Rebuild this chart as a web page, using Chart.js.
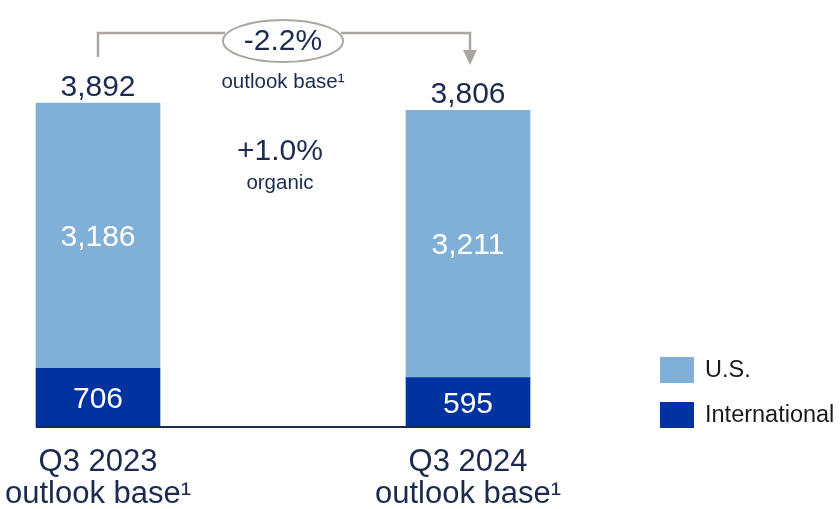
<!DOCTYPE html>
<html>
<head>
<meta charset="utf-8">
<script src="https://cdn.jsdelivr.net/npm/chart.js@4.4.1/dist/chart.umd.min.js"></script>
<style>
  html, body { margin: 0; padding: 0; background: #fff; }
  #wrap { width: 840px; height: 509px; }
</style>
</head>
<body>
<div id="wrap"><canvas id="outlookChart" width="840" height="509"></canvas></div>
<script>
const categories = [["Q3 2023", "outlook base\u00b9"], ["Q3 2024", "outlook base\u00b9"]];
const seriesNames = ["International", "U.S."];
const intlValues = [706, 595];
const usValues = [3186, 3211];
const totals = [3892, 3806];
const changeBase = "-2.2%";
const changeBaseLabel = "outlook base\u00b9";
const changeOrganic = "+1.0%";
const changeOrganicLabel = "organic";

const FONT = "'Liberation Sans', Arial, sans-serif";
const NAVY = "#1b2a4e";
const LIGHT = "#80b0d8";
const DARK = "#0033a0";
const GRAY = "#aaa69f";

const annotations = {
  id: "annotations",
  afterDatasetsDraw(chart) {
    const ctx = chart.ctx;
    const bottom = chart.getDatasetMeta(0).data;
    const top = chart.getDatasetMeta(1).data;
    const w = top[0].width;

    // baseline across both bars
    ctx.save();
    ctx.strokeStyle = NAVY;
    ctx.lineWidth = 2;
    ctx.beginPath();
    ctx.moveTo(bottom[0].x - w / 2, bottom[0].base);
    ctx.lineTo(bottom[1].x + w / 2, bottom[1].base);
    ctx.stroke();

    // values inside bars
    ctx.fillStyle = "#fff";
    ctx.textAlign = "center";
    ctx.textBaseline = "middle";
    ctx.font = "30px " + FONT;
    [bottom, top].forEach((bars, d) => {
      bars.forEach((bar, i) => {
        const v = d === 0 ? intlValues[i] : usValues[i];
        ctx.fillText(v.toLocaleString("en-US"), bar.x, (bar.y + bar.base) / 2 + 2);
      });
    });

    // totals
    ctx.fillStyle = NAVY;
    ctx.textBaseline = "alphabetic";
    top.forEach((bar, i) => {
      ctx.fillText(totals[i].toLocaleString("en-US"), bar.x, bar.y - 7);
    });

    // bracket with arrow
    const x1 = top[0].x, x2 = top[1].x + 2;
    const ly = 33;
    const ox = 283, oy = 41, orx = 60, ory = 21;
    ctx.strokeStyle = GRAY;
    ctx.lineWidth = 2.5;
    ctx.beginPath();
    ctx.moveTo(x1, 57);
    ctx.lineTo(x1, ly);
    ctx.lineTo(ox - orx + 2, ly);
    ctx.moveTo(ox + orx - 2, ly);
    ctx.lineTo(x2, ly);
    ctx.lineTo(x2, 52);
    ctx.stroke();
    ctx.fillStyle = GRAY;
    ctx.beginPath();
    ctx.moveTo(x2 - 7, 50);
    ctx.lineTo(x2 + 7, 50);
    ctx.lineTo(x2, 65);
    ctx.closePath();
    ctx.fill();

    ctx.lineWidth = 2;
    ctx.fillStyle = "#fff";
    ctx.beginPath();
    ctx.ellipse(ox, oy, orx, ory, 0, 0, Math.PI * 2);
    ctx.fill();
    ctx.stroke();

    ctx.fillStyle = NAVY;
    ctx.textBaseline = "middle";
    ctx.font = "30px " + FONT;
    ctx.fillText(changeBase, ox, oy + 1);
    ctx.font = "20.5px " + FONT;
    ctx.fillText(changeBaseLabel, ox, 82);
    ctx.font = "30px " + FONT;
    ctx.fillText(changeOrganic, 280, 152);
    ctx.font = "20.5px " + FONT;
    ctx.fillText(changeOrganicLabel, 280, 183);

    // legend
    const items = [{ t: seriesNames[1], c: LIGHT, y: 357 }, { t: seriesNames[0], c: DARK, y: 402 }];
    ctx.textAlign = "left";
    ctx.font = "23.5px " + FONT;
    items.forEach((it) => {
      ctx.fillStyle = it.c;
      ctx.fillRect(660, it.y, 34, 26);
      ctx.fillStyle = "#1a1a1a";
      ctx.fillText(it.t, 705, it.y + 14);
    });
    ctx.restore();
  }
};

new Chart(document.getElementById("outlookChart"), {
  type: "bar",
  data: {
    labels: categories,
    datasets: [
      { label: seriesNames[0], data: intlValues, backgroundColor: DARK, barThickness: 124, clip: false },
      { label: seriesNames[1], data: usValues, backgroundColor: LIGHT, barThickness: 124, clip: false }
    ]
  },
  options: {
    responsive: false,
    animation: false,
    layout: { padding: { left: 98, right: 372, top: 11, bottom: 0 } },
    plugins: { legend: { display: false }, tooltip: { enabled: false } },
    scales: {
      x: {
        stacked: true,
        offset: false,
        grid: { display: false, drawTicks: false },
        border: { display: false },
        ticks: {
          autoSkip: false,
          maxRotation: 0,
          padding: 19,
          color: NAVY,
          font: { family: FONT, size: 31, lineHeight: 1.05 }
        },
        afterFit(scale) {
          scale.height = 82;
          scale.paddingLeft = 0;
          scale.paddingRight = 0;
        }
      },
      y: {
        stacked: true,
        display: false,
        min: 0,
        max: 5000
      }
    }
  },
  plugins: [annotations]
});
</script>
</body>
</html>
